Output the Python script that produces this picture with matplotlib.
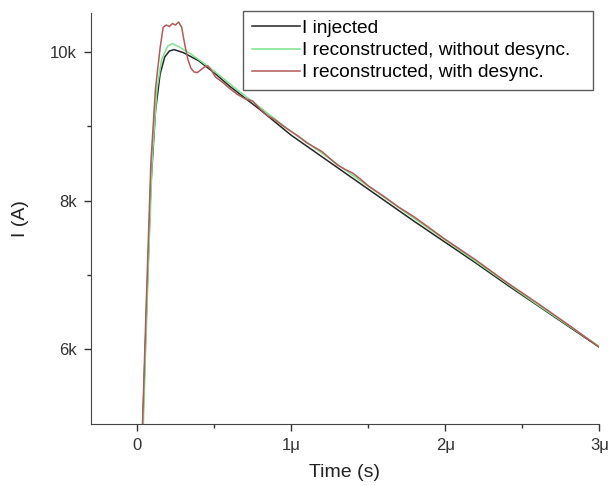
import matplotlib
matplotlib.use("Agg")
import matplotlib.pyplot as plt
from matplotlib.ticker import FixedLocator

plt.rcParams['font.family'] = ['Liberation Sans', 'DejaVu Sans']

# time in microseconds, current in amps
t_inj = [0.03, 0.06, 0.09, 0.12, 0.15, 0.18, 0.21, 0.24, 0.30, 0.40, 0.50, 0.60, 0.70,
         0.80, 0.90, 1.00, 1.20, 1.40, 1.60, 1.80, 2.00, 2.20, 2.40, 2.60, 2.80, 3.00]
i_inj = [4500, 6400, 8200, 9200, 9700, 9930, 10010, 10030, 9990, 9880, 9720, 9540, 9380,
         9220, 9050, 8880, 8590, 8300, 8010, 7720, 7440, 7160, 6870, 6590, 6310, 6030]

t_nodes = [0.04, 0.07, 0.10, 0.13, 0.16, 0.20, 0.23, 0.27, 0.35, 0.45, 0.55, 0.65, 0.75,
           0.85, 1.00, 1.20, 1.40, 1.60, 1.80, 2.00, 2.20, 2.40, 2.60, 2.80, 3.00]
i_nodes = [4900, 6900, 8600, 9500, 9900, 10080, 10110, 10070, 9970, 9820, 9660, 9490, 9330,
           9170, 8930, 8640, 8340, 8050, 7760, 7470, 7180, 6890, 6600, 6320, 6040]

t_desync = [0.03, 0.06, 0.09, 0.12, 0.15, 0.17, 0.19, 0.21, 0.23, 0.25, 0.27, 0.29, 0.31,
            0.33, 0.35, 0.37, 0.39, 0.41, 0.44, 0.46, 0.48, 0.51, 0.55, 0.60, 0.65, 0.70,
            0.75, 0.80, 0.85, 0.90, 0.95, 1.00, 1.05, 1.10, 1.15, 1.20, 1.25, 1.30, 1.35,
            1.40, 1.45, 1.50, 1.60, 1.70, 1.80, 1.90, 2.00, 2.20, 2.40, 2.60, 2.80, 3.00]
i_desync = [4600, 6600, 8500, 9500, 10050, 10330, 10360, 10340, 10380, 10360, 10400, 10330, 10100,
            9900, 9780, 9730, 9720, 9750, 9800, 9810, 9760, 9660, 9600, 9510, 9430, 9370,
            9340, 9230, 9140, 9080, 9000, 8930, 8860, 8780, 8720, 8660, 8570, 8480, 8420,
            8370, 8290, 8200, 8060, 7910, 7780, 7630, 7480, 7200, 6900, 6620, 6330, 6030]

fig = plt.figure(figsize=(6.09, 4.86), dpi=100)
ax = fig.add_axes([0.149, 0.128, 0.835, 0.845])

ax.plot(t_inj, i_inj, color="#262626", lw=1.1, label="I injected")
ax.plot(t_nodes, i_nodes, color="#7de38c", lw=1.1, label="I reconstructed, without desync.")
ax.plot(t_desync, i_desync, color="#b35a5a", lw=1.1, label="I reconstructed, with desync.")

ax.set_xlim(-0.3, 3.0)
ax.set_ylim(5000, 10520)

ax.set_xticks([0, 1, 2, 3])
ax.set_xticklabels(["0", "1\u03bc", "2\u03bc", "3\u03bc"])
ax.xaxis.set_minor_locator(FixedLocator([0.5, 1.5, 2.5]))
ax.set_yticks([6000, 8000, 10000])
ax.set_yticklabels(["6k", "8k", "10k"])
ax.yaxis.set_minor_locator(FixedLocator([7000, 9000]))

ax.tick_params(which="major", direction="out", length=5, width=1, labelsize=12, colors="#333333",
               pad=5)
ax.tick_params(which="minor", direction="out", length=3, width=1, colors="#333333")
for s in ["top", "right"]:
    ax.spines[s].set_visible(False)
for s in ["left", "bottom"]:
    ax.spines[s].set_color("#444444")

ax.set_xlabel("Time (s)", fontsize=14, color="#222222", labelpad=8)
ax.set_ylabel("I (A)", fontsize=14, color="#222222", labelpad=15)

leg = ax.legend(loc="upper left", bbox_to_anchor=(243 / 609, 1 - 93 / 486, 350 / 609, 82 / 486),
                bbox_transform=fig.transFigure, mode="expand",
                fontsize=13.8, frameon=True, fancybox=False, handlelength=2.5,
                handletextpad=0.15, borderpad=0.45, labelspacing=0.25, borderaxespad=0)
leg.get_frame().set_edgecolor("#333333")
leg.get_frame().set_linewidth(1.0)

fig.savefig("out.png", dpi=100)
